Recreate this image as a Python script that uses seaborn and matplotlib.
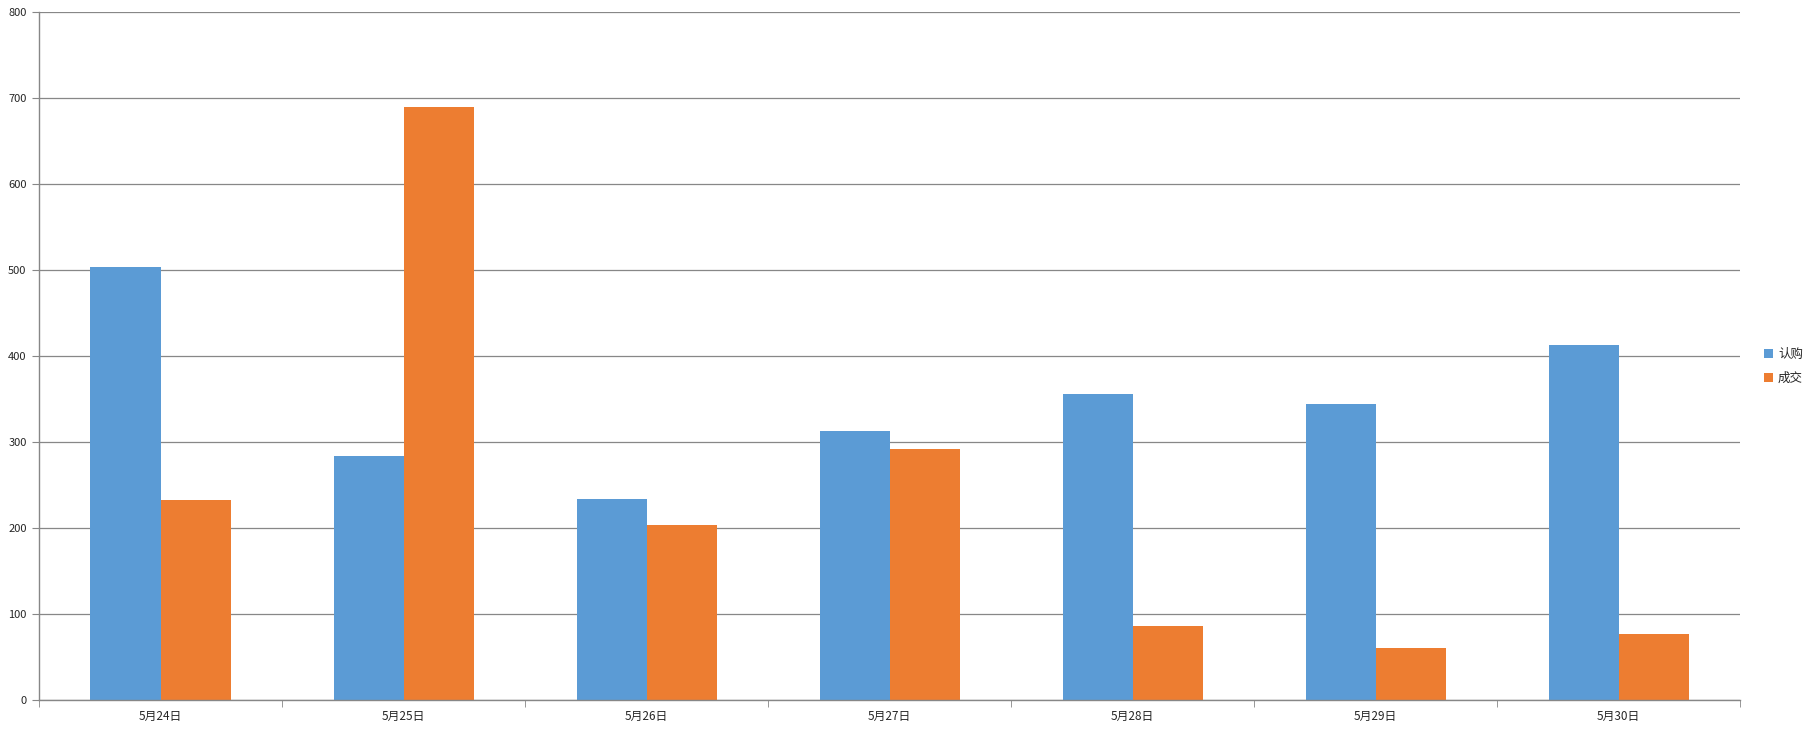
import matplotlib
matplotlib.use("Agg")
import matplotlib.pyplot as plt
from matplotlib.ticker import FixedLocator
import seaborn as sns
import pandas as pd

dates = ["5月24日", "5月25日", "5月26日", "5月27日", "5月28日", "5月29日", "5月30日"]
subscribed = [503, 284, 234, 313, 356, 344, 413]   # 认购
deals = [233, 689, 204, 292, 86, 61, 77]           # 成交
series_names = ["认购", "成交"]
colors = ["#5B9BD5", "#ED7D31"]

df = pd.DataFrame({
    "date": dates * 2,
    "value": subscribed + deals,
    "series": [series_names[0]] * len(dates) + [series_names[1]] * len(dates),
})

sns.set_style("white")
plt.rcParams["font.family"] = ["Noto Sans CJK SC", "DejaVu Sans"]

fig = plt.figure(figsize=(18.09, 7.33), dpi=100)
ax = fig.add_axes([0.0216, 0.045, 0.962 - 0.0216, 0.9836 - 0.045])

sns.barplot(data=df, x="date", y="value", hue="series", hue_order=series_names,
            palette=colors, width=0.577, saturation=1, linewidth=0,
            ax=ax, legend=True)

grid_c = "#878787"
ax.set_ylim(0, 800)
ax.set_xlim(-0.5, len(dates) - 0.5)
ax.set_yticks(range(0, 801, 100))
ax.yaxis.grid(True, color=grid_c, linewidth=0.9)
ax.set_axisbelow(True)
for s in ["top", "right"]:
    ax.spines[s].set_visible(False)
for s in ["left", "bottom"]:
    ax.spines[s].set_color(grid_c)
    ax.spines[s].set_linewidth(1)

ax.tick_params(axis="y", length=5, color=grid_c, labelsize=8, pad=4, left=True)
ax.tick_params(axis="x", which="major", length=0, labelsize=8.5, pad=7)
ax.xaxis.set_minor_locator(FixedLocator([i - 0.5 for i in range(len(dates) + 1)]))
ax.tick_params(axis="x", which="minor", length=5, color=grid_c, bottom=True)
ax.set_xlabel("")
ax.set_ylabel("")

handles, labels = ax.get_legend_handles_labels()
ax.get_legend().remove()
fig.legend(handles, labels, loc="center left", bbox_to_anchor=(0.969, 0.5),
           frameon=False, fontsize=9, handlelength=0.7, handleheight=0.7,
           handletextpad=0.4, labelspacing=0.9)

fig.savefig("out.png", dpi=100)
